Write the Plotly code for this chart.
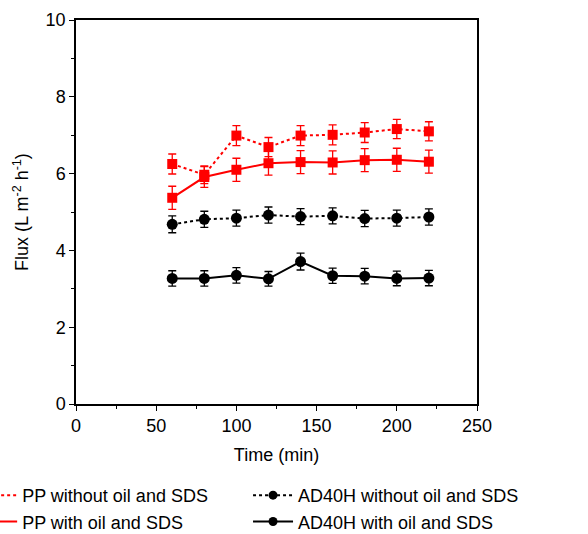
import plotly.graph_objects as go

time_min = [60, 80, 100, 120, 140, 160, 180, 200, 220]

pp_without = [6.25, 5.97, 6.99, 6.69, 6.99, 7.01, 7.07, 7.16, 7.10]
pp_without_err = [0.26, 0.23, 0.26, 0.25, 0.26, 0.26, 0.26, 0.25, 0.25]

pp_with = [5.37, 5.91, 6.10, 6.27, 6.30, 6.29, 6.35, 6.36, 6.31]
pp_with_err = [0.30, 0.27, 0.30, 0.31, 0.30, 0.30, 0.30, 0.30, 0.30]

ad_without = [4.68, 4.81, 4.84, 4.92, 4.88, 4.90, 4.83, 4.84, 4.87]
ad_without_err = [0.22, 0.21, 0.21, 0.21, 0.21, 0.21, 0.21, 0.21, 0.21]

ad_with = [3.27, 3.27, 3.35, 3.26, 3.71, 3.34, 3.33, 3.27, 3.28]
ad_with_err = [0.20, 0.20, 0.20, 0.19, 0.22, 0.20, 0.20, 0.19, 0.20]

names = ["PP without oil and SDS", "PP with oil and SDS",
         "AD40H without oil and SDS", "AD40H with oil and SDS"]

RED = "#ff0000"
BLACK = "#000000"

fig = go.Figure()

def add_series(y, err, color, dash, symbol, msize):
    fig.add_trace(go.Scatter(
        x=time_min, y=y, mode="lines+markers",
        line=dict(color=color, width=2, dash=dash),
        marker=dict(symbol=symbol, size=msize, color=color),
        error_y=dict(type="data", array=err, visible=True, color=color,
                     thickness=1.3, width=4),
        showlegend=False,
    ))

add_series(pp_without, pp_without_err, RED, "dot", "square", 10)
add_series(pp_with, pp_with_err, RED, "solid", "square", 10)
add_series(ad_without, ad_without_err, BLACK, "dot", "circle", 11)
add_series(ad_with, ad_with_err, BLACK, "solid", "circle", 11)

# legend-only traces
fig.add_trace(go.Scatter(x=[None], y=[None], mode="lines", name=names[0],
                         line=dict(color=RED, width=2, dash="dot"), legend="legend"))
fig.add_trace(go.Scatter(x=[None], y=[None], mode="lines", name=names[1],
                         line=dict(color=RED, width=2), legend="legend"))
fig.add_trace(go.Scatter(x=[None], y=[None], mode="lines+markers", name=names[2],
                         line=dict(color=BLACK, width=2, dash="dot"),
                         marker=dict(symbol="circle", size=9, color=BLACK), legend="legend2"))
fig.add_trace(go.Scatter(x=[None], y=[None], mode="lines+markers", name=names[3],
                         line=dict(color=BLACK, width=2),
                         marker=dict(symbol="circle", size=9, color=BLACK), legend="legend2"))

FONT = "Liberation Sans, Arial, sans-serif"
FS = 18

fig.update_layout(
    width=588, height=534,
    margin=dict(l=76, r=111, t=20, b=130, autoexpand=False),
    paper_bgcolor="white", plot_bgcolor="white",
    font=dict(family=FONT, size=FS, color="black"),
    legend=dict(x=-0.259, y=-0.354, xanchor="left", yanchor="bottom",
                orientation="v", itemwidth=40, tracegroupgap=0,
                font=dict(size=FS), bgcolor="rgba(0,0,0,0)"),
    legend2=dict(x=0.429, y=-0.354, xanchor="left", yanchor="bottom",
                 orientation="v", itemwidth=40, tracegroupgap=0,
                 font=dict(size=FS), bgcolor="rgba(0,0,0,0)"),
    xaxis=dict(range=[0, 250], tickvals=[0, 50, 100, 150, 200, 250],
               ticks="outside", ticklen=5, tickwidth=1.2, tickcolor="black",
               minor=dict(ticks="outside", ticklen=3, tickvals=[25, 75, 125, 175, 225], tickcolor="black"),
               showline=True, linecolor="black", linewidth=1.5, mirror=True,
               showgrid=False, zeroline=False, automargin=False,
               title=dict(text="Time (min)", font=dict(size=FS), standoff=13),
               tickfont=dict(size=FS)),
    yaxis=dict(range=[0, 10], tickvals=[0, 2, 4, 6, 8, 10],
               ticks="outside", ticklen=5, tickwidth=1.2, tickcolor="black",
               minor=dict(ticks="outside", ticklen=3, tickvals=[1, 3, 5, 7, 9], tickcolor="black"),
               showline=True, linecolor="black", linewidth=1.5, mirror=True,
               showgrid=False, zeroline=False, automargin=False,
               title=dict(text="Flux (L m<sup>-2</sup> h<sup>-1</sup>)", font=dict(size=FS), standoff=12),
               tickfont=dict(size=FS)),
)

fig.write_html("out.html")
